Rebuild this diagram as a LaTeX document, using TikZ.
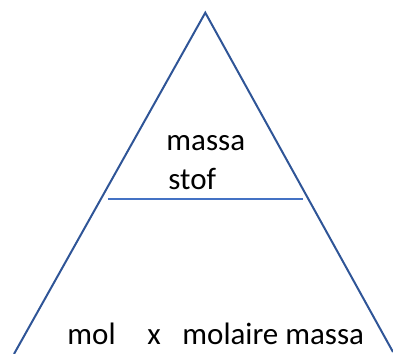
\documentclass[tikz,border=0pt]{standalone}
\usepackage{fontspec}
\setmainfont{Carlito}
\usepackage{xcolor}
\usepackage{tikz}
\definecolor{edgeblue}{HTML}{2F5597}
\definecolor{barblue}{HTML}{4472C4}

\begin{document}
\begin{tikzpicture}[
x=0.5pt,
y=-0.5pt,
every node/.style={font=\fontsize{15.5pt}{18pt}\selectfont,inner sep=0pt,anchor=base west},
side/.style={draw=edgeblue,line width=1pt},
bar/.style={draw=barblue,line width=1pt}
]
\useasboundingbox (0,0) rectangle (393,354);
\coordinate (top) at (205.3,12.7);
\coordinate (botleft) at (14,354);
\coordinate (botright) at (393,352);
\coordinate (barleft) at (108,199);
\coordinate (barright) at (303,199);

\draw[side] (botleft) -- (top) -- (botright);
\draw[bar] (barleft) -- (barright);

\node (massa) at (166,150.5) {massa};
\node (stof) at (168,190) {stof};
\node (mol) at (67,345) {mol};
\node (times) at (147,345) {x};
\node (molmassa) at (182,345) {molaire massa};
\end{tikzpicture}
\end{document}
